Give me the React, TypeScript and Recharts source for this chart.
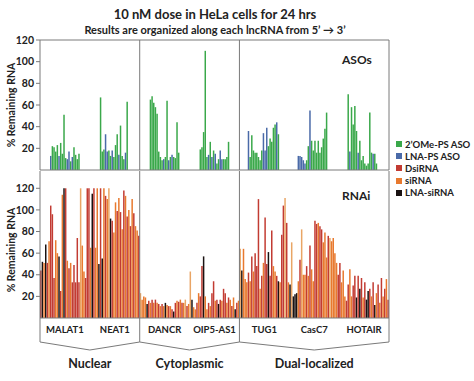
import React from 'react';
import { BarChart, Bar, Cell, XAxis, YAxis, ReferenceLine } from 'recharts';

const GENES = ['MALAT1', 'NEAT1', 'DANCR', 'OIP5-AS1', 'TUG1', 'CasC7', 'HOTAIR'];
const GROUPS = ['Nuclear', 'Cytoplasmic', 'Dual-localized'];
const GROUP_SIZES = [2, 2, 3];
const SLOTS = 30; // bar positions along each lncRNA
const Y_TICKS = [0, 20, 40, 60, 80, 100, 120];

const SERIES = [
  { key: 'g', name: '2’OMe-PS ASO', color: '#3aa84a' },
  { key: 'b', name: 'LNA-PS ASO', color: '#4a6aa8' },
  { key: 'r', name: 'DsiRNA', color: '#c23b32' },
  { key: 'o', name: 'siRNA', color: '#e8792e' },
  { key: 'k', name: 'LNA-siRNA', color: '#1a1212' },
];
// lighter siRNA bars seen in the picture
const PALE = '#e9a565';

// ASOs: first slot used per gene, values, type codes
const ASO_START = [6, 6, 6, 6, 5, 5, 5];
const ASO_MALAT1 = [13, 22, 21, 17, 23, 13, 25, 15, 51, 11, 10, 17, 8, 12, 21, 14, 10, 15];
const ASO_MALAT1_T = 'bggggbggggbbgbgggg';
const ASO_NEAT1 = [67, 17, 19, 33, 17, 18, 13, 18, 12, 23, 33, 14, 41, 13, 10, 16, 63];
const ASO_NEAT1_T = 'gggbbggbgggbgggbg';
const ASO_DANCR = [65, 68, 62, 58, 52, 17, 12, 9, 10, 12, 64, 9, 12, 14, 12, 11, 44, 16];
const ASO_DANCR_T = 'ggggggggbggbgbgggg';
const ASO_OIP5 = [19, 21, 35, 110, 12, 14, 26, 12, 18, 15, 6, 10, 18, 10, 10, 10, 12, 26];
const ASO_OIP5_T = 'gggggbgbgbggbbgggg';
const ASO_TUG1 = [36, 12, 32, 18, 16, 16, 12, 9, 18, 34, 18, 39, 22, 29, 26, 39, 42, 44, 33];
const ASO_TUG1_T = 'bggggggggbbbgggggbg';
const ASO_CASC7 = [13, 13, 12, 9, 6, 9, 22, 55, 27, 18, 27, 16, 27, 16, 21, 29, 38, 53];
const ASO_CASC7_T = 'bbbbbggbgggggggggg';
const ASO_HOTAIR = [70, 17, 58, 42, 59, 36, 16, 27, 9, 13, 6, 4, 6, 53, 16, 15, 15, 6];
const ASO_HOTAIR_T = 'gbggggbggggggggbgg';

// RNAi (values above 120 are cut at the axis top)
const RNAI_MALAT1 = [44, 52, 51, 68, 51, 71, 104, 96, 37, 72, 60, 57, 25, 114, 120, 120, 53, 46, 51, 33, 49, 33, 74, 33, 120, 67, 43, 37, 120, 120];
const RNAI_MALAT1_T = 'rkokrorrro' + 'okrokroror' + 'rrrrpoorrr';
const RNAI_NEAT1 = [65, 115, 120, 65, 120, 50, 120, 55, 120, 113, 110, 120, 92, 90, 79, 107, 99, 111, 98, 82, 118, 113, 94, 100, 85, 110, 97, 85, 81, 76];
const RNAI_NEAT1_T = 'okrookrkor' + 'opkroororo' + 'rorororoor';
const RNAI_DANCR = [23, 17, 20, 19, 13, 16, 14, 17, 14, 17, 14, 13, 11, 13, 11, 14, 12, 11, 11, 8, 6, 14, 16, 15, 17, 14, 14, 17, 11, 13];
const RNAI_DANCR_T = 'poookroror' + 'ororokoror' + 'krororopro';
const RNAI_OIP5 = [43, 17, 10, 8, 14, 23, 20, 48, 57, 20, 8, 14, 11, 23, 34, 16, 17, 13, 17, 16, 27, 23, 14, 19, 17, 11, 19, 8, 14, 16];
const RNAI_OIP5_T = 'pkoororrko' + 'ororrorkro' + 'rrororokro';
const RNAI_TUG1 = [64, 44, 64, 36, 33, 42, 34, 57, 43, 60, 48, 110, 27, 39, 51, 93, 50, 61, 39, 81, 48, 43, 39, 34, 33, 77, 104, 111, 88, 33];
const RNAI_TUG1_T = 'pkooororor' + 'rrororrkrr' + 'oorkorrpro';
const RNAI_CASC7 = [31, 70, 20, 22, 23, 34, 54, 82, 40, 40, 48, 39, 67, 45, 34, 90, 87, 88, 85, 82, 70, 79, 56, 76, 74, 71, 74, 60, 51, 40];
const RNAI_CASC7_T = 'kpkkkorpoo' + 'roroorrorr' + 'ooorpoooor';
const RNAI_HOTAIR = [51, 33, 44, 20, 16, 31, 45, 20, 30, 39, 19, 39, 27, 37, 19, 33, 17, 25, 27, 20, 33, 12, 23, 31, 14, 37, 20, 27, 36, 17];
const RNAI_HOTAIR_T = 'rooorroorr' + 'krkrorkkro' + 'rkorororor';

const ASO_VALUES = [ASO_MALAT1, ASO_NEAT1, ASO_DANCR, ASO_OIP5, ASO_TUG1, ASO_CASC7, ASO_HOTAIR];
const ASO_TYPES = [ASO_MALAT1_T, ASO_NEAT1_T, ASO_DANCR_T, ASO_OIP5_T, ASO_TUG1_T, ASO_CASC7_T, ASO_HOTAIR_T];
const RNAI_VALUES = [RNAI_MALAT1, RNAI_NEAT1, RNAI_DANCR, RNAI_OIP5, RNAI_TUG1, RNAI_CASC7, RNAI_HOTAIR];
const RNAI_TYPES = [RNAI_MALAT1_T, RNAI_NEAT1_T, RNAI_DANCR_T, RNAI_OIP5_T, RNAI_TUG1_T, RNAI_CASC7_T, RNAI_HOTAIR_T];

const colorOf = (t: string) => (t === 'p' ? PALE : SERIES.find((s) => s.key === t)?.color ?? '#999');

function buildRows(values: number[][], types: string[], starts: number[]) {
  const rows: { slot: number; v: number | null; t: string }[] = [];
  GENES.forEach((_, g) => {
    for (let s = 0; s < SLOTS; s++) {
      const k = s - starts[g];
      const has = k >= 0 && k < values[g].length;
      rows.push({ slot: g * SLOTS + s, v: has ? values[g][k] : null, t: has ? types[g][k] : '' });
    }
  });
  return rows;
}

const asoRows = buildRows(ASO_VALUES, ASO_TYPES, ASO_START);
const rnaiRows = buildRows(RNAI_VALUES, RNAI_TYPES, GENES.map(() => 0));

const W = 474;
const PLOT_L = 40;
const PLOT_R = 389;
const TOTAL = GENES.length * SLOTS;
const SLOT_W = (PLOT_R - PLOT_L) / TOTAL;
const FONT = "Lato, 'Open Sans', sans-serif";
const LINE = '#7a7a7a';
const TEXT = '#222';

const groupStarts: number[] = [];
GROUP_SIZES.reduce((acc, n) => { groupStarts.push(acc); return acc + n; }, 0);
const geneTicks = GENES.map((_, i) => i * SLOTS).filter((v) => v > 0);
const dividerSlots = groupStarts.filter((g) => g > 0).map((g) => g * SLOTS);

const tickStyle = { fontSize: 10.5, fontWeight: 700, fill: TEXT, fontFamily: FONT };

function Panel({ rows, top, height, yMax }: { rows: any[]; top: number; height: number; yMax: number }) {
  return (
    <BarChart
      width={W}
      height={height}
      data={rows}
      margin={{ top, right: W - PLOT_R, bottom: 0, left: 0 }}
      barCategoryGap={0}
      style={{ position: 'absolute', left: 0, top: 0 }}
    >
      <XAxis
        dataKey="slot"
        type="category"
        height={5}
        ticks={geneTicks}
        interval={0}
        tick={false}
        tickSize={3}
        stroke={LINE}
      />
      <YAxis
        width={PLOT_L}
        domain={[0, yMax]}
        ticks={Y_TICKS}
        allowDataOverflow
        tickSize={4}
        stroke={LINE}
        tick={tickStyle}
      />
      {yMax === 120 && <ReferenceLine y={120} stroke={LINE} />}
      {dividerSlots.map((s) => (
        <ReferenceLine key={s} x={s} position="start" stroke={LINE} />
      ))}
      <ReferenceLine x={TOTAL - 1} position="end" stroke={LINE} />
      <Bar dataKey="v" barSize={1.7} isAnimationActive={false}>
        {rows.map((r, i) => (
          <Cell key={i} fill={colorOf(r.t)} />
        ))}
      </Bar>
    </BarChart>
  );
}

export default function App() {
  const boxTop = 318;
  const boxBottom = 342;
  const tipY = 350;
  return (
    <div style={{ position: 'absolute', left: 0, top: 0, width: 474, height: 381, background: '#fff', fontFamily: FONT, color: TEXT }}>
      <div style={{ position: 'absolute', left: 0, width: 430, top: 6, textAlign: 'center', fontSize: 13, fontWeight: 700, lineHeight: '16px' }}>
        10 nM dose in HeLa cells for 24 hrs
      </div>
      <div style={{ position: 'absolute', left: 0, width: 430, top: 23, textAlign: 'center', fontSize: 11, fontWeight: 700, lineHeight: '13px' }}>
        Results are organized along each lncRNA from 5’ → 3’
      </div>

      <Panel rows={asoRows} top={40} height={175} yMax={120} />
      <Panel rows={rnaiRows} top={171} height={323} yMax={136} />

      {[105, 250].map((cy) => (
        <div key={cy} style={{ position: 'absolute', left: 11, top: cy, width: 0, height: 0 }}>
          <div style={{ position: 'absolute', transform: 'translate(-50%, -50%) rotate(-90deg)', whiteSpace: 'nowrap', fontSize: 10.5, fontWeight: 700 }}>
            % Remaining RNA
          </div>
        </div>
      ))}

      <div style={{ position: 'absolute', left: 342, top: 52, fontSize: 12, fontWeight: 700 }}>ASOs</div>
      <div style={{ position: 'absolute', left: 342, top: 188, fontSize: 12, fontWeight: 700 }}>RNAi</div>

      <div style={{ position: 'absolute', left: 396, top: 138 }}>
        {SERIES.map((s) => (
          <div key={s.key} style={{ display: 'flex', alignItems: 'center', height: 12.2, fontSize: 9.5, fontWeight: 700 }}>
            <span style={{ width: 6, height: 6, background: s.color, marginRight: 3 }} />
            {s.name}
          </div>
        ))}
      </div>

      <svg width={474} height={381} style={{ position: 'absolute', left: 0, top: 0 }}>
        {[...groupStarts, GENES.length].map((g) => {
          const x = PLOT_L + g * SLOTS * SLOT_W;
          return <line key={g} x1={x} x2={x} y1={boxTop} y2={boxBottom} stroke={LINE} />;
        })}
        {GROUPS.map((name, i) => {
          const x0 = PLOT_L + groupStarts[i] * SLOTS * SLOT_W;
          const x1 = PLOT_L + (groupStarts[i] + GROUP_SIZES[i]) * SLOTS * SLOT_W;
          const xm = (x0 + x1) / 2;
          return (
            <g key={name}>
              <polyline points={`${x0},${boxBottom} ${xm},${tipY} ${x1},${boxBottom}`} fill="none" stroke={LINE} />
              <text x={xm} y={368} textAnchor="middle" fontSize={12.5} fontWeight={700} fill={TEXT} fontFamily={FONT}>
                {name}
              </text>
            </g>
          );
        })}
        {GENES.map((gName, i) => (
          <text key={gName} x={PLOT_L + (i + 0.5) * SLOTS * SLOT_W} y={333} textAnchor="middle" fontSize={9.5} fontWeight={700} fill={TEXT} fontFamily={FONT}>
            {gName}
          </text>
        ))}
      </svg>
    </div>
  );
}
